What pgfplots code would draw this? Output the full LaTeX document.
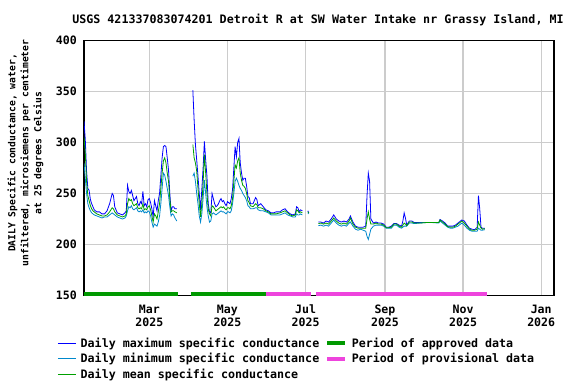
\documentclass[border=0pt]{standalone}
\usepackage{pgfplots}
\pgfplotsset{compat=1.18}
\usepackage{pgfplotstable}
\usepackage{fontspec}
\setmainfont{DejaVu Sans Mono}

\definecolor{maxblue}{RGB}{0,0,255}
\definecolor{minblue}{RGB}{0,136,204}
\definecolor{meangreen}{RGB}{0,160,0}
\definecolor{apprgreen}{RGB}{0,153,0}
\definecolor{provpink}{RGB}{238,68,221}

% day of 2025 (Jan 1 = 0), daily max / mean / min, uS/cm
\pgfplotstableread{
day max mean min
8 321 305 280
9 303 290 265
10 272 262 250
11 255 248 240
12 253 243 236
13 244 238 233
14 240 235 231
15 237 233 230
16 234 232 229
18 232 230 228
20 232 229 227
22 230 228 226
24 230 228 227
26 233 229 227
28 240 232 229
30 250 236 231
31 248 235 230
32 237 232 229
34 231 229 227
36 230 228 226
38 229 227 225
40 231 228 226
41 233 230 228
42 258 240 233
43 252 245 237
44 250 243 236
45 253 244 238
46 248 240 235
47 243 238 234
48 245 239 235
49 247 240 236
50 240 236 233
51 238 235 232
52 242 236 233
53 240 235 232
54 252 240 234
55 238 234 231
56 240 235 232
57 237 234 231
58 244 237 233
59 245 238 232
60 241 234 228
61 235 228 222
62 227 222 217
63 243 230 220
64 238 228 219
65 233 225 218
66 243 232 222
67 250 240 228
68 267 255 240
69 285 270 255
70 296 282 270
71 297 285 268
72 296 280 262
73 285 270 255
74 273 262 248
75 250 245 237
76 233 232 228
77 237 233 230
78 237 233 229
79 235 232 226
80.5 235 231 223
81 nan nan nan
93 351 298 267
94 322 285 270
95 298 280 262
96 283 272 250
97 267 255 240
98 250 240 228
99 234 227 222
100 254 240 230
101 275 260 245
102 301 288 263
103 283 270 250
104 267 250 237
105 240 235 228
106 232 230 222
107 231 228 223
108 250 238 230
109 245 237 231
110 240 235 230
111 237 233 229
112 238 234 230
113 240 235 231
114 243 236 232
115 245 237 233
116 242 236 232
117 243 237 232
118 240 235 231
119 238 234 230
120 242 236 232
121 241 236 232
122 240 235 231
123 245 238 233
124 254 245 240
125 275 262 250
126 296 278 262
127 286 275 265
128 300 282 262
129 304 285 258
130 280 270 255
131 270 263 253
132 263 258 250
133 265 257 248
134 265 255 246
135 257 250 243
136 247 243 238
137 246 241 237
138 240 238 235
140 240 237 235
142 246 240 236
143 244 239 236
144 238 236 234
146 240 236 233
148 237 235 233
150 234 233 232
152 233 232 231
154 231 230 229
156 231 230 229
158 232 230 229
161 232 231 229
163 234 232 230
165 235 233 231
167 232 231 229
169 230 229 228
171 229 228 227
173 230 229 227
174 237 234 230
175 236 233 229
176 232 231 229
177 234 232 230
178.5 233 231 229
179 nan nan nan
182.8 233 232 231
183.5 231 231 230
184 nan nan nan
191 222 220.5 218.5
193 222 221 219
195 221 220 218
197 223 221 219
199 222 220 218
201 225 223 221
203 229 226 224
205 225 223 221
207 223 221 219
209 222 220 218
211 223 221 219
213 222 220 218
215 225 223 221
216 228 226 222
218 222 220 218
220 218 217 215
222 217 216 214
224 217 216 215
226 217 216 214
228 218 216 213
229 248 225 208
230 270 232 205
231 262 225 210
232 225 220 215
234 221 220 218
236 222 221 219
238 221 220 219
240 221 220 219
242 220 219 218
244 217 216.5 216
246 217 216.5 216
248 218 217 216
250 220.5 220 219
252 220.5 220 219
254 219 218 217
256 218 217 216
257 223 219 217
258 231 221 218
259 226 220 218
260 219 218.5 218
262 223 222 221
264 223 222 221
266 221.5 221 220.5
270 221.5 221 221
275 221.5 221.5 221.5
280 221.5 221.5 221.5
285 221.5 221.5 221
286 224.5 224 223
288 223 222 221
290 221 220 219
292 218 217.5 217
294 218 217 216
296 218 217 216
298 219 218 217
300 221 220 218
302 223 222 220
303 224 223 221
305 223 221 219
307 219 218 216
309 216 215 214
311 215 214 213
313 214.5 214 213
315 217 215 213
316 248 222 216
317 235 219 215
318 217 216 214
319 216 215 214
321 216 215.5 214.5
}\sc

\begin{document}
\begin{tikzpicture}
\path[use as bounding box] (0bp,0bp) rectangle (576bp,384bp);
\begin{axis}[
    at={(84bp,88.5bp)}, anchor=south west,
    scale only axis,
    width=470bp, height=255bp,
    xmin=8, xmax=375,
    ymin=150, ymax=400,
    xtick={59,120,181,243,304,365},
    xticklabels={{Mar\\2025},{May\\2025},{Jul\\2025},{Sep\\2025},{Nov\\2025},{Jan\\2026}},
    ytick={150,200,250,300,350,400},
    grid=major,
    major grid style={draw=black!20, line width=1.2bp},
    major tick length=0pt,
    axis line style={line width=1.2bp},
    tick label style={font=\fontsize{11.6}{13}\selectfont\bfseries},
    xticklabel style={align=center, inner sep=0pt, yshift=-9.5bp},
    yticklabel style={inner sep=0pt, xshift=-7bp},
    /pgf/number format/assume math mode=true,
    unbounded coords=jump,
    legend columns=2,
    legend cell align=left,
    legend image code/.code={\draw[#1] (0bp,0bp) -- (18bp,0bp);},
    legend style={at={(axis description cs:-0.057,-0.157)}, anchor=north west,
        draw=none, fill=none, inner sep=0pt, row sep=0.6bp,
        font=\fontsize{11.7}{13}\selectfont\bfseries,
        /tikz/every odd column/.append style={column sep=2.5bp},
        /tikz/every even column/.append style={column sep=4bp}},
]

% data period bars
\addplot[apprgreen, line width=4bp, forget plot] coordinates {(8,151.5) (81.2,151.5)};
\addplot[apprgreen, line width=4bp, forget plot] coordinates {(91.5,151.5) (150.1,151.5)};
\addplot[provpink, line width=4bp, forget plot] coordinates {(150.1,151.5) (185.2,151.5)};
\addplot[provpink, line width=4bp, forget plot] coordinates {(189.2,151.5) (322.7,151.5)};

\addplot[maxblue, line width=0.8bp, forget plot] table[x=day, y=max] {\sc};
\addplot[minblue, line width=0.8bp, forget plot] table[x=day, y=min] {\sc};
\addplot[meangreen, line width=0.8bp, forget plot] table[x=day, y=mean] {\sc};

\addlegendimage{maxblue, line width=0.8bp}
\addlegendentry{Daily maximum specific conductance}
\addlegendimage{apprgreen, line width=4bp}
\addlegendentry{Period of approved data}
\addlegendimage{minblue, line width=0.8bp}
\addlegendentry{Daily minimum specific conductance}
\addlegendimage{provpink, line width=4bp}
\addlegendentry{Period of provisional data}
\addlegendimage{meangreen, line width=0.8bp}
\addlegendentry{Daily mean specific conductance}
\end{axis}

\node[font=\fontsize{11.7}{13}\selectfont\bfseries] at (318bp,364bp)
    {USGS 421337083074201 Detroit R at SW Water Intake nr Grassy Island, MI};
\node[rotate=90, align=center, font=\fontsize{9.7}{13}\selectfont\bfseries] at (25.5bp,231bp)
    {DAILY Specific conductance, water,\\unfiltered, microsiemens per centimeter\\at 25 degrees Celsius};
\end{tikzpicture}
\end{document}
